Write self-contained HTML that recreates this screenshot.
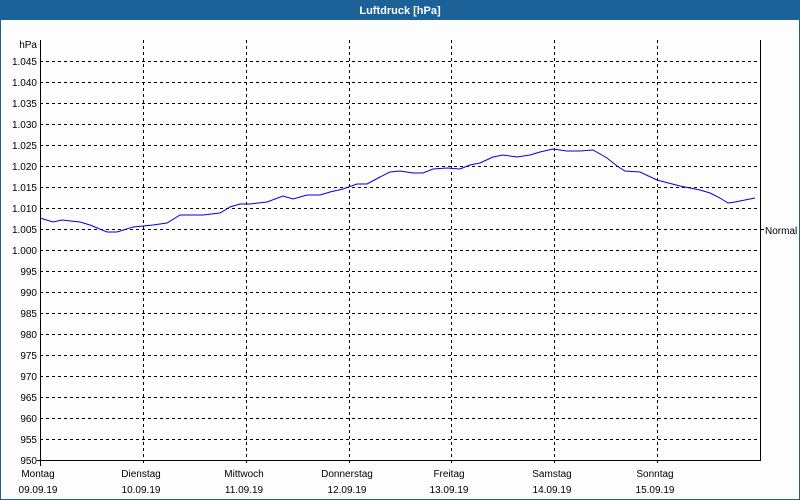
<!DOCTYPE html>
<html><head><meta charset="utf-8"><style>
html,body{margin:0;padding:0;background:#fff}
svg{display:block;font-family:"Liberation Sans",sans-serif}
</style></head><body>
<svg width="800" height="500" viewBox="0 0 800 500" xmlns="http://www.w3.org/2000/svg">
<rect x="0" y="0" width="800" height="500" fill="#fdfdfd"/>
<rect x="0.5" y="0.5" width="799" height="499" fill="none" stroke="#1c5f97"/>
<rect x="0" y="0" width="800" height="20" fill="#1c6298"/>
<text x="400" y="14" fill="#fff" font-size="11" font-weight="bold" text-anchor="middle">Luftdruck [hPa]</text>
<g stroke="#000" stroke-dasharray="3,3" stroke-width="1">
<line x1="40" x2="760" y1="61.5" y2="61.5"/><line x1="40" x2="760" y1="82.5" y2="82.5"/><line x1="40" x2="760" y1="103.5" y2="103.5"/><line x1="40" x2="760" y1="124.5" y2="124.5"/><line x1="40" x2="760" y1="145.5" y2="145.5"/><line x1="40" x2="760" y1="166.5" y2="166.5"/><line x1="40" x2="760" y1="187.5" y2="187.5"/><line x1="40" x2="760" y1="208.5" y2="208.5"/><line x1="40" x2="760" y1="229.5" y2="229.5"/><line x1="40" x2="760" y1="250.5" y2="250.5"/><line x1="40" x2="760" y1="271.5" y2="271.5"/><line x1="40" x2="760" y1="292.5" y2="292.5"/><line x1="40" x2="760" y1="313.5" y2="313.5"/><line x1="40" x2="760" y1="334.5" y2="334.5"/><line x1="40" x2="760" y1="355.5" y2="355.5"/><line x1="40" x2="760" y1="376.5" y2="376.5"/><line x1="40" x2="760" y1="397.5" y2="397.5"/><line x1="40" x2="760" y1="418.5" y2="418.5"/><line x1="40" x2="760" y1="439.5" y2="439.5"/>
<line x1="143.5" x2="143.5" y1="40" y2="466"/><line x1="246.5" x2="246.5" y1="40" y2="466"/><line x1="349.5" x2="349.5" y1="40" y2="466"/><line x1="451.5" x2="451.5" y1="40" y2="466"/><line x1="554.5" x2="554.5" y1="40" y2="466"/><line x1="657.5" x2="657.5" y1="40" y2="466"/>
</g>
<g stroke="#000" stroke-width="1">
<line x1="40.5" x2="40.5" y1="40" y2="466"/>
<line x1="760.5" x2="760.5" y1="40" y2="461"/>
<line x1="37" x2="761" y1="460.5" y2="460.5"/>
<line x1="760" x2="764" y1="229.5" y2="229.5"/>
</g>
<g font-size="10" fill="#000" text-anchor="end">
<text x="37" y="48">hPa</text>
<text x="37" y="65">1.045</text><text x="37" y="86">1.040</text><text x="37" y="107">1.035</text><text x="37" y="128">1.030</text><text x="37" y="149">1.025</text><text x="37" y="170">1.020</text><text x="37" y="191">1.015</text><text x="37" y="212">1.010</text><text x="37" y="233">1.005</text><text x="37" y="254">1.000</text><text x="37" y="275">995</text><text x="37" y="296">990</text><text x="37" y="317">985</text><text x="37" y="338">980</text><text x="37" y="359">975</text><text x="37" y="380">970</text><text x="37" y="401">965</text><text x="37" y="422">960</text><text x="37" y="443">955</text><text x="37" y="464">950</text>
</g>
<text x="765" y="234" font-size="10">Normal</text>
<g font-size="10" text-anchor="middle">
<text x="38" y="477">Montag</text><text x="38" y="493">09.09.19</text>
<text x="141" y="477">Dienstag</text><text x="141" y="493">10.09.19</text>
<text x="244" y="477">Mittwoch</text><text x="244" y="493">11.09.19</text>
<text x="347" y="477">Donnerstag</text><text x="347" y="493">12.09.19</text>
<text x="449" y="477">Freitag</text><text x="449" y="493">13.09.19</text>
<text x="552" y="477">Samstag</text><text x="552" y="493">14.09.19</text>
<text x="655" y="477">Sonntag</text><text x="655" y="493">15.09.19</text>
</g>
<polyline fill="none" stroke="#0000e0" stroke-width="1" points="40,218 53,222 62,220 80,222 90,225 107,232 117,232 133,227 153,225 167,223 180,215 203,215 220,213 230,207 240,204 250,204 267,202 283,196 293,199 307,195 320,195 330,192 343,189 357,184 367,184 380,177 390,172 400,171 413,173 423,173 433,169 447,168 460,169 470,165 480,163 493,157 503,155 517,157 530,155 540,152 553,149 567,151 580,151 593,150 607,158 617,166 625,171 640,172 657,180 680,186 700,190 710,193 720,198 728,203 735,202 745,200 755,198"/>
</svg>
</body></html>
